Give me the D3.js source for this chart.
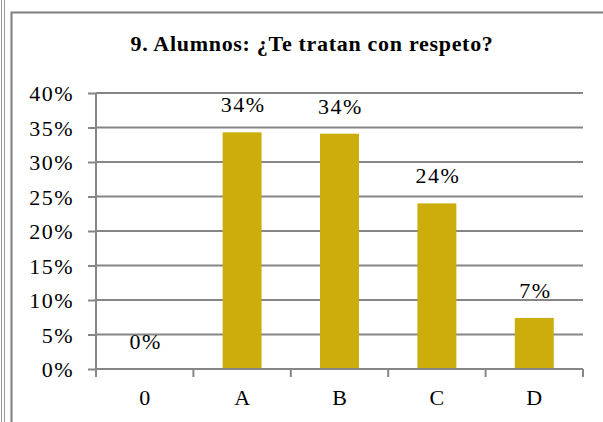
<!DOCTYPE html>
<html>
<head>
<meta charset="utf-8">
<script src="https://cdn.jsdelivr.net/npm/d3@7"></script>
<style>
  body { margin: 0; background: #fff; }
  text { font-family: "Liberation Serif", "Times New Roman", serif; fill: #000; }
</style>
</head>
<body>
<div id="chart"></div>
<script>
// Chart data
var categories = ["0", "A", "B", "C", "D"];
var values = [0, 0.343, 0.341, 0.240, 0.074];
var valueLabels = ["0%", "34%", "34%", "24%", "7%"];
var yTicks = [0, 0.05, 0.10, 0.15, 0.20, 0.25, 0.30, 0.35, 0.40];
var title = "9. Alumnos: ¿Te tratan con respeto?";

// svg wrapper dimensions
var svgWidth = 603;
var svgHeight = 422;

var margin = {
  top: 93,
  right: 20,
  bottom: 53,
  left: 96
};

var width = 583 - margin.left;
var height = 369 - margin.top;

var svg = d3.select("#chart")
  .append("svg")
  .attr("width", svgWidth)
  .attr("height", svgHeight);

// outer frame lines
svg.append("line")
  .attr("x1", 1.5).attr("x2", 1.5)
  .attr("y1", 0).attr("y2", svgHeight)
  .attr("stroke", "#9a9a9a")
  .attr("stroke-width", 1);

svg.append("line")
  .attr("x1", 4.5).attr("x2", 4.5)
  .attr("y1", 0).attr("y2", svgHeight)
  .attr("stroke", "#9a9a9a")
  .attr("stroke-width", 1);

svg.append("path")
  .attr("d", `M11.5,${svgHeight} V12.5 H${svgWidth}`)
  .attr("fill", "none")
  .attr("stroke", "#7f7f7f")
  .attr("stroke-width", 2);

// title
svg.append("text")
  .attr("x", 312)
  .attr("y", 51)
  .attr("text-anchor", "middle")
  .attr("font-weight", "bold")
  .attr("font-size", "22px")
  .attr("letter-spacing", "0.7px")
  .text(title);

var chartGroup = svg.append("g")
  .attr("transform", `translate(${margin.left}, ${margin.top})`);

// scales
var xScale = d3.scaleBand()
  .domain(categories)
  .range([0, width])
  .paddingInner(0.6)
  .paddingOuter(0.3);

var xBoundary = d3.scaleLinear()
  .domain([0, categories.length])
  .range([0, width]);

var yScale = d3.scaleLinear()
  .domain([0, 0.4])
  .range([height, 0]);

// gridlines
chartGroup.append("g")
  .selectAll("line")
  .data(yTicks.slice(1))
  .enter()
  .append("line")
  .attr("x1", 0)
  .attr("x2", width)
  .attr("y1", d => yScale(d))
  .attr("y2", d => yScale(d))
  .attr("stroke", "#868686")
  .attr("stroke-width", 2);

// y axis
var leftAxis = d3.axisLeft(yScale)
  .tickValues(yTicks)
  .tickFormat(d3.format(".0%"))
  .tickSize(8)
  .tickPadding(14);

var yAxis = chartGroup.append("g")
  .call(leftAxis);

yAxis.select(".domain").remove();
yAxis.selectAll("line").attr("stroke", "#868686").attr("stroke-width", 2);
yAxis.selectAll("text")
  .attr("font-size", "22px")
  .attr("letter-spacing", "1.5px")
  .attr("dy", "0.36em")
  .attr("fill", "#000");

chartGroup.append("line")
  .attr("x1", 0).attr("x2", 0)
  .attr("y1", 0).attr("y2", height)
  .attr("stroke", "#868686")
  .attr("stroke-width", 2);

// bars
chartGroup.selectAll("rect")
  .data(values)
  .enter()
  .append("rect")
  .attr("x", (d, i) => xScale(categories[i]))
  .attr("y", d => yScale(d))
  .attr("width", xScale.bandwidth())
  .attr("height", d => height - yScale(d))
  .attr("fill", "#CCAD0C");

// x axis with ticks at category boundaries
chartGroup.append("line")
  .attr("x1", 0).attr("x2", width)
  .attr("y1", height).attr("y2", height)
  .attr("stroke", "#868686")
  .attr("stroke-width", 2);

chartGroup.append("g")
  .selectAll("line")
  .data(d3.range(categories.length + 1))
  .enter()
  .append("line")
  .attr("x1", d => xBoundary(d))
  .attr("x2", d => xBoundary(d))
  .attr("y1", height)
  .attr("y2", height + 8)
  .attr("stroke", "#868686")
  .attr("stroke-width", 2);

chartGroup.append("g")
  .selectAll("text")
  .data(categories)
  .enter()
  .append("text")
  .attr("x", d => xScale(d) + xScale.bandwidth() / 2)
  .attr("y", height + 36)
  .attr("text-anchor", "middle")
  .attr("font-size", "22px")
  .text(d => d);

// value labels
chartGroup.append("g")
  .selectAll("text")
  .data(values)
  .enter()
  .append("text")
  .attr("x", (d, i) => xScale(categories[i]) + xScale.bandwidth() / 2 + 1)
  .attr("y", d => yScale(d) - 20)
  .attr("text-anchor", "middle")
  .attr("font-size", "22px")
  .attr("letter-spacing", "1.5px")
  .text((d, i) => valueLabels[i]);
</script>
</body>
</html>
